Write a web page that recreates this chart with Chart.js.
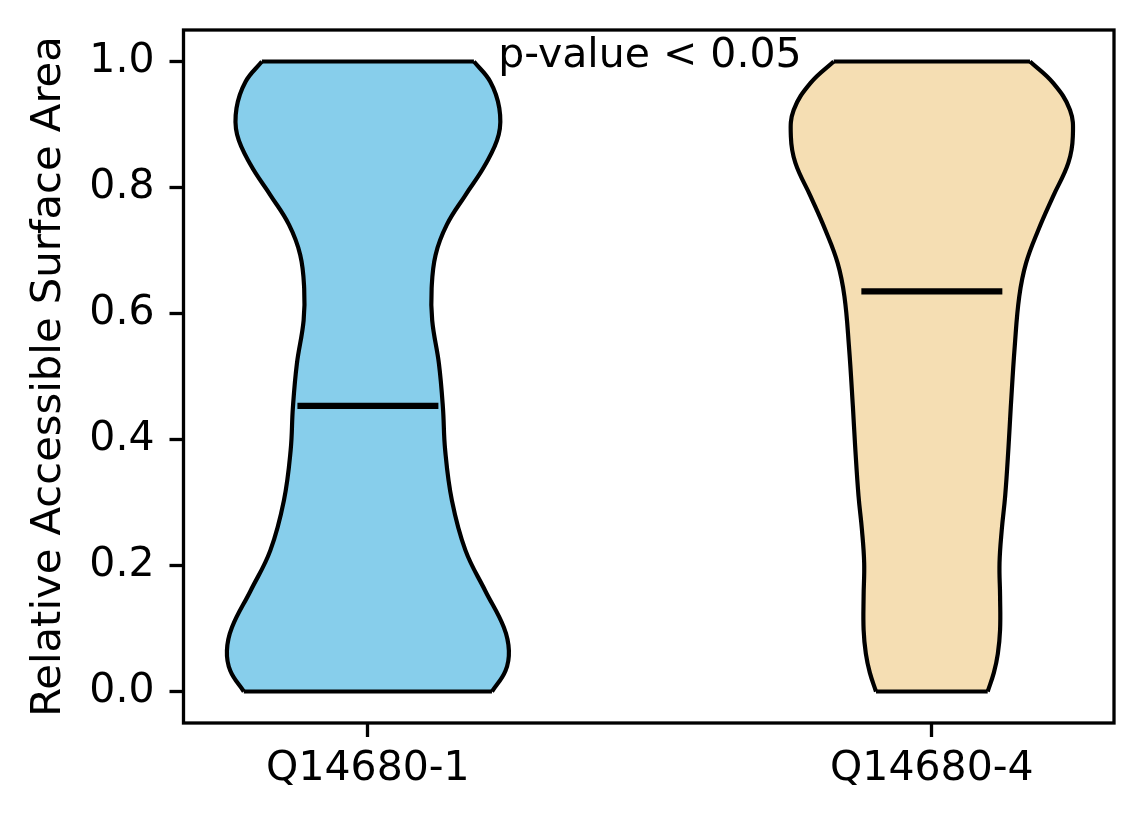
<!DOCTYPE html>
<html>
<head>
<meta charset="utf-8">
<script src="https://cdn.jsdelivr.net/npm/chart.js@4/dist/chart.umd.min.js"></script>
<style>
  html, body { margin: 0; padding: 0; background: #fff; }
  #wrap { width: 1144px; height: 824px; }
</style>
</head>
<body>
<div id="wrap"><canvas id="c" width="1144" height="824"></canvas></div>
<script>
// ---- data ----
const categories = ['Q14680-1', 'Q14680-4'];
const positions = [1, 2];
const medians = [0.4535, 0.635];
const fillColors = ['#87CEEB', '#F5DEB3'];
const yTicks = [0.0, 0.2, 0.4, 0.6, 0.8, 1.0];
const yTitle = 'Relative Accessible Surface Area';
const annotationText = 'p-value < 0.05';

// violin outline: value levels and half-widths (in x units, max 0.25)
const violin1Y    = [0.000, 0.033, 0.065, 0.102, 0.160, 0.224, 0.303, 0.383, 0.451, 0.520, 0.589, 0.640, 0.693, 0.741, 0.788, 0.836, 0.884, 0.926, 0.968, 1.000];
const violin1Half = [0.220, 0.244, 0.250, 0.241, 0.208, 0.173, 0.149, 0.137, 0.133, 0.126, 0.114, 0.113, 0.120, 0.140, 0.173, 0.208, 0.232, 0.233, 0.217, 0.188];
const violin2Y    = [0.000, 0.030, 0.060, 0.098, 0.151, 0.204, 0.257, 0.310, 0.389, 0.452, 0.548, 0.627, 0.680, 0.733, 0.786, 0.839, 0.881, 0.923, 0.966, 1.000];
const violin2Half = [0.099, 0.110, 0.117, 0.121, 0.121, 0.120, 0.124, 0.130, 0.136, 0.140, 0.147, 0.155, 0.167, 0.189, 0.215, 0.242, 0.250, 0.245, 0.215, 0.174];

const violinYs = [violin1Y, violin2Y];
const violinHalves = [violin1Half, violin2Half];
const medianHalf = 0.125;

const FONT = 'DejaVu Sans';
const EDGE = 4.2;
const datasets = [];
positions.forEach((pos, i) => {
  const ys = violinYs[i], hs = violinHalves[i];
  const n = ys.length;
  const base = datasets.length;
  // lower index = drawn on top
  datasets.push({ // median
    data: [{ x: pos - medianHalf, y: medians[i] }, { x: pos + medianHalf, y: medians[i] }],
    borderColor: '#000', borderWidth: 6.2, tension: 0, pointRadius: 0, fill: false, borderCapStyle: 'butt'
  });
  datasets.push({ // top flat
    data: [{ x: pos - hs[n - 1], y: ys[n - 1] }, { x: pos + hs[n - 1], y: ys[n - 1] }],
    borderColor: '#000', borderWidth: EDGE, tension: 0, pointRadius: 0, fill: false
  });
  datasets.push({ // bottom flat
    data: [{ x: pos - hs[0], y: ys[0] }, { x: pos + hs[0], y: ys[0] }],
    borderColor: '#000', borderWidth: EDGE, tension: 0, pointRadius: 0, fill: false
  });
  datasets.push({ // left edge
    data: ys.map((y, k) => ({ x: pos - hs[k], y })),
    borderColor: '#000', borderWidth: EDGE, tension: 0.4, pointRadius: 0, fill: false
  });
  datasets.push({ // right edge, filled to left edge
    data: ys.map((y, k) => ({ x: pos + hs[k], y })),
    borderColor: '#000', borderWidth: EDGE, tension: 0.4, pointRadius: 0,
    fill: { target: base + 3, above: fillColors[i], below: fillColors[i] },
    backgroundColor: fillColors[i]
  });
});

const framePlugin = {
  id: 'frame',
  afterDatasetsDraw(chart) {
    const { ctx, chartArea: a } = chart;
    ctx.save();
    ctx.strokeStyle = '#000';
    ctx.lineWidth = 3.3;
    ctx.strokeRect(a.left, a.top, a.right - a.left, a.bottom - a.top);
    ctx.restore();
  },
  afterDraw(chart) {
    const { ctx } = chart;
    const xs = chart.scales.x, ys = chart.scales.y;
    ctx.save();
    ctx.fillStyle = '#000';
    ctx.font = '41px "' + FONT + '"';
    ctx.textAlign = 'center';
    ctx.textBaseline = 'alphabetic';
    ctx.fillText(annotationText, xs.getPixelForValue(1.5), ys.getPixelForValue(0.991));
    ctx.restore();
  }
};

new Chart(document.getElementById('c'), {
  type: 'line',
  data: { datasets },
  plugins: [framePlugin],
  options: {
    indexAxis: 'y',
    responsive: false,
    animation: false,
    devicePixelRatio: 1,
    layout: { padding: { left: 0, right: 30, top: 30, bottom: 0 } },
    plugins: { legend: { display: false }, tooltip: { enabled: false } },
    scales: {
      x: {
        type: 'linear', min: 0.673, max: 2.323,
        afterFit(s) { s.height = 101; s.paddingLeft = 0; s.paddingRight = 0; },
        afterBuildTicks(s) { s.ticks = positions.map(v => ({ value: v })); },
        border: { display: false },
        grid: { display: true, drawOnChartArea: false, drawTicks: true, tickLength: 14, tickWidth: 3.3, tickColor: '#000' },
        ticks: {
          autoSkip: false, maxRotation: 0, padding: 8, color: '#000',
          font: { family: FONT, size: 41 },
          callback: (v) => categories[positions.indexOf(v)]
        }
      },
      y: {
        type: 'linear', min: -0.05, max: 1.05,
        afterFit(s) { s.width = 183.5; s.paddingTop = 0; s.paddingBottom = 0; },
        afterBuildTicks(s) { s.ticks = yTicks.map(v => ({ value: v })); },
        border: { display: false },
        grid: { display: true, drawOnChartArea: false, drawTicks: true, tickLength: 14, tickWidth: 3.3, tickColor: '#000' },
        ticks: {
          autoSkip: false, padding: 15, color: '#000',
          font: { family: FONT, size: 41 },
          callback: (v) => Number(v).toFixed(1)
        },
        title: {
          display: true, text: yTitle, color: '#000',
          font: { family: FONT, size: 41.7 },
          padding: { top: 24, bottom: 0 }
        }
      }
    }
  }
});
</script>
</body>
</html>
